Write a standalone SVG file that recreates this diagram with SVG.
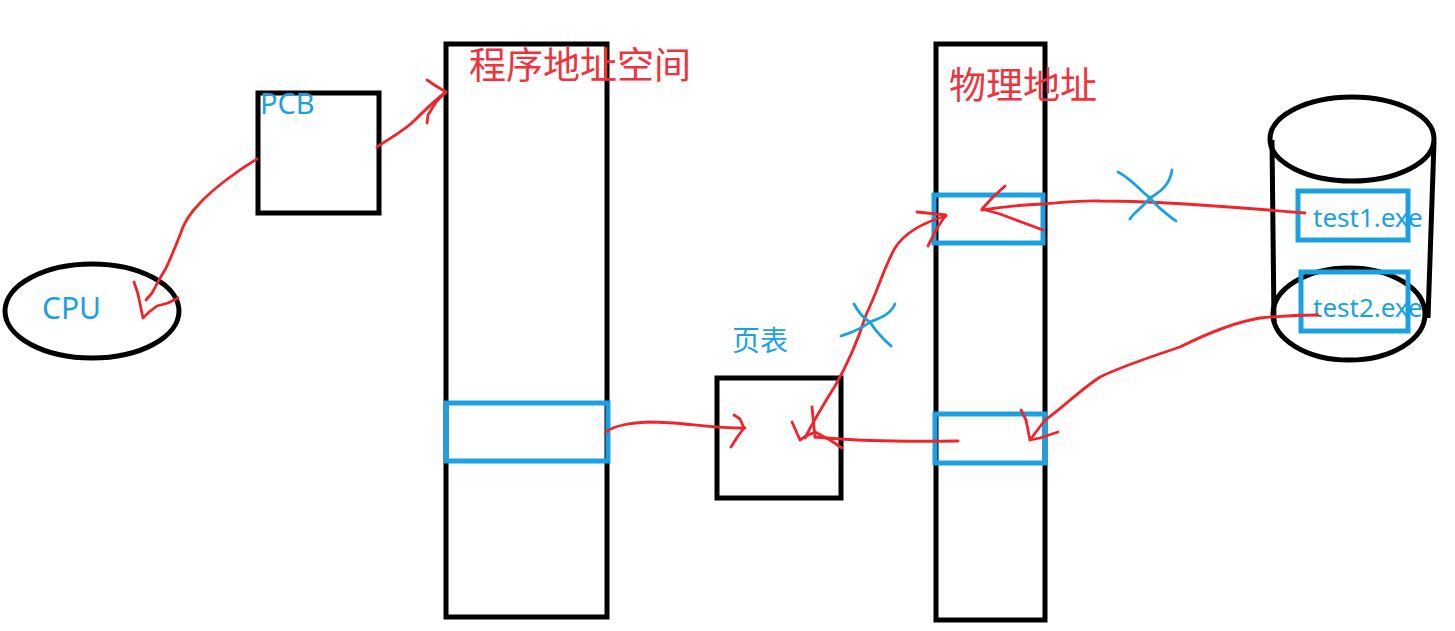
<svg xmlns="http://www.w3.org/2000/svg" width="1455" height="631" viewBox="0 0 1455 631">
<style>
.blk{fill:none;stroke:#000;stroke-width:5}
.blu{fill:none;stroke:#1ba1e2;stroke-width:5}
.red{fill:none;stroke:#f0242a;stroke-width:2.8;stroke-linecap:round;stroke-linejoin:round}
.x{fill:none;stroke:#1ba1e2;stroke-width:2.8;stroke-linecap:round}
.bt{fill:#1ba1e2;font-family:"Noto Sans","Noto Sans CJK SC",sans-serif}
.rt{fill:#f0323c;font-family:"Noto Sans CJK SC",sans-serif}
</style>
<rect width="1455" height="631" fill="#fff"/>
<g id="cpu">
<ellipse class="blk" cx="92" cy="311" rx="87" ry="47"/>
<text class="bt" x="42" y="319" font-size="30">CPU</text>
</g>
<g id="pcb">
<rect class="blk" x="258" y="93" width="121" height="120"/>
<text class="bt" x="260" y="114" font-size="29">PCB</text>
</g>
<g id="program">
<rect class="blk" x="446" y="44" width="161" height="573"/>
<rect class="blu" x="446" y="403" width="162" height="58"/>
<text class="rt" x="469" y="79" font-size="37">程序地址空间</text>
</g>
<g id="pagetable">
<rect class="blk" x="717" y="378" width="124" height="120"/>
<text class="bt" x="732" y="351" font-size="28">页表</text>
</g>
<g id="physical">
<rect class="blk" x="936" y="44" width="109" height="576"/>
<rect class="blu" x="934" y="195" width="109" height="48"/>
<rect class="blu" x="935" y="414" width="110" height="49"/>
<text class="rt" x="949" y="99" font-size="37">物理地址</text>
</g>
<g id="disk">
<ellipse class="blk" cx="1352" cy="139" rx="82" ry="42"/>
<path class="blk" d="M1272 140 L1274 322 M1434 142 L1428 318"/>
<ellipse class="blk" cx="1349" cy="314" rx="76" ry="46"/>
<rect class="blu" x="1298" y="191" width="110" height="49"/>
<rect class="blu" x="1301" y="272" width="107" height="59"/>
<text class="bt" x="1313" y="227" font-size="26">test1.exe</text>
<text class="bt" x="1313" y="317" font-size="26">test2.exe</text>
</g>
<g id="connectors">
<path class="red" d="M257 159 C235 172 212 190 200 203 C188 215 183 225 180 235 C174 250 170 260 166 268 C160 278 158 282 152 293 L146 300"/>
<path class="red" d="M134 282 L138 294 L143 318 L149 312 L157 306 L168 303 L178 298"/>
<path class="red" d="M377 147 C395 135 405 130 415 120 C425 110 435 100 446 92"/>
<path class="red" d="M427 80 L436 86 L446 92 L436 102 L428 115 L427 123"/>
<path class="red" d="M606 432 C615 425 630 423 650 422 C680 422 710 428 745 428"/>
<path class="red" d="M734 415 L740 419 L744 428 L738 436 L731 447"/>
<path class="red" d="M805 438 C815 418 825 402 835 386 C850 360 858 340 866 315 C880 285 885 265 895 248 C905 232 925 222 946 216"/>
<path class="red" d="M917 212 L946 215 L937 228 L928 246"/>
<path class="red" d="M792 422 L800 440 L806 436 L815 432 L830 440 L842 448"/>
<path class="red" d="M815 437 C850 440 880 442 958 441"/>
<path class="red" d="M812 407 L815 437"/>
<path class="red" d="M1305 213 C1270 210 1230 207 1200 205 C1170 203 1130 201 1100 201 C1080 200 1060 203 1043 204 C1020 205 1000 207 982 210"/>
<path class="red" d="M1005 186 L993 197 L982 209 L1000 214 L1043 230"/>
<path class="red" d="M1318 315 C1300 315 1280 316 1260 318 C1230 323 1200 337 1180 347 C1150 357 1120 367 1100 377 C1080 390 1060 410 1045 420 L1030 440"/>
<path class="red" d="M1021 410 L1026 420 L1030 440 L1040 438 L1058 432"/>
<path class="x" d="M1118 172 C1130 178 1140 190 1150 198 C1160 210 1168 215 1176 221 M1172 170 C1170 185 1160 192 1150 198 C1140 210 1134 212 1130 219"/>
<path class="x" d="M854 304 C860 315 866 320 870 322 C875 330 882 338 891 346 M895 304 C890 315 880 318 870 322 C860 330 850 333 841 336"/>
</g>
</svg>
